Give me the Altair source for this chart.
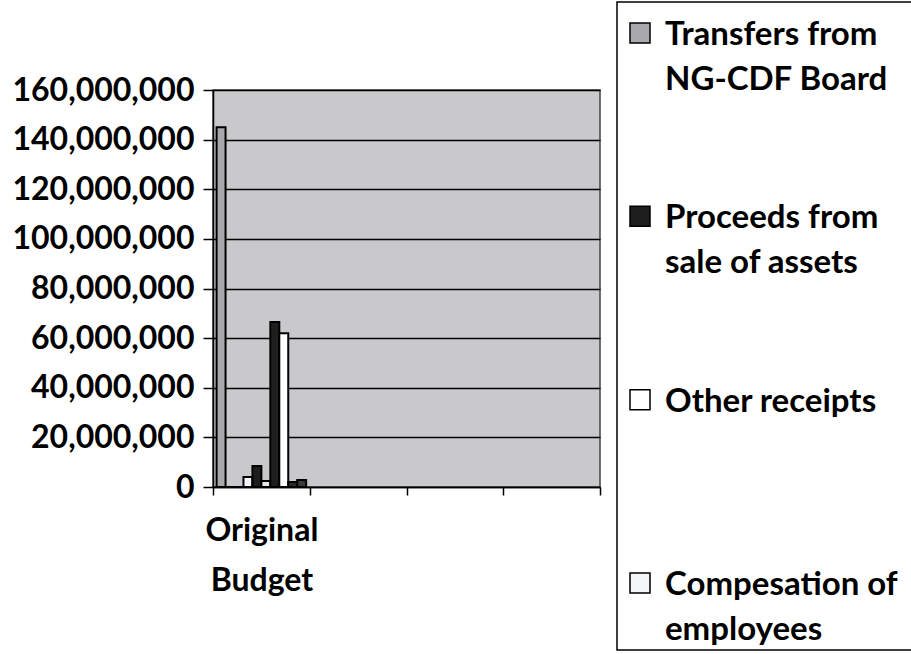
import altair as alt
import pandas as pd

# ---- data ----
categories = ["Original Budget", " ", "  ", "   "]
series = [
    "Transfers from NG-CDF Board",
    "Proceeds from sale of assets",
    "Other receipts",
    "Compesation of employees",
    "Use of goods and services",
    "Transfers to Other Government Units",
    "Other grants and transfers",
    "Social security benefits",
    "Acquisition of assets",
    "Other payments",
]
values = [145_000_000, 0, 0, 4_000_000, 8_500_000, 2_400_000,
          66_500_000, 62_000_000, 2_000_000, 2_800_000]
colors = ["#a9a9ab", "#1e1e1e", "#ffffff", "#f4f6fa", "#1e1e1e",
          "#e6e6e6", "#1e1e1e", "#ffffff", "#2a2a2a", "#3a3a3a"]
legend_series = series[:4]
legend_labels = ["Transfers from\nNG-CDF Board", "Proceeds from\nsale of assets",
                 "Other receipts", "Compesation of\nemployees"]
y_ticks = [0, 20_000_000, 40_000_000, 60_000_000, 80_000_000,
           100_000_000, 120_000_000, 140_000_000, 160_000_000]

df = pd.DataFrame({"category": [categories[0]] * len(series),
                   "series": series, "value": values})
leg_df = pd.DataFrame({"entry": legend_series, "label": legend_labels})
box_df = pd.DataFrame({"a": [0]})

FONT = "Lato"

bars = alt.Chart(df).mark_bar(stroke="black", strokeWidth=2).encode(
    x=alt.X("category:N", sort=categories,
            scale=alt.Scale(domain=categories, paddingInner=0, paddingOuter=0),
            axis=alt.Axis(title=None, labelAngle=0, grid=False,
                          labelExpr="datum.value == 'Original Budget' ? ['Original', 'Budget'] : ''",
                          tickBand="extent", ticks=True, tickSize=8, tickWidth=1.5,
                          labelLineHeight=50, labelPadding=20, domainWidth=1.5)),
    xOffset=alt.XOffset("series:N", sort=series,
                        scale=alt.Scale(domain=series, paddingInner=0, paddingOuter=0.4)),
    y=alt.Y("value:Q", scale=alt.Scale(domain=[0, 160_000_000], nice=False),
            axis=alt.Axis(title=None, values=y_ticks, format=",d", grid=True,
                          gridColor="black", gridWidth=1.5, tickSize=10, tickWidth=1.5,
                          labelPadding=9, domainWidth=1.5, labelLimit=400)),
    color=alt.Color("series:N", scale=alt.Scale(domain=series, range=colors), legend=None),
)

box = alt.Chart(box_df).mark_rect(fillOpacity=0, stroke="black", strokeWidth=1.5).encode(
    x=alt.value(404), x2=alt.value(720), y=alt.value(-88), y2=alt.value(560)
)

leg_y = alt.Y("entry:N", sort=legend_series,
              scale=alt.Scale(type="point", domain=legend_series, range=[-45, 505], padding=0),
              axis=None)

swatch = alt.Chart(leg_df).mark_square(size=400, stroke="black", strokeWidth=1.5,
                                       opacity=1, yOffset=-12).encode(
    x=alt.value(427), y=leg_y,
    fill=alt.Fill("entry:N", scale=alt.Scale(domain=legend_series, range=colors[:4]), legend=None),
)

text = alt.Chart(leg_df).mark_text(align="left", baseline="alphabetic", font=FONT,
                                   fontWeight="bold", fontSize=33, lineBreak="\n",
                                   lineHeight=45, color="black").encode(
    x=alt.value(452), y=leg_y, text="label:N"
)

chart = alt.layer(bars, box, swatch, text).resolve_scale(
    y="independent", color="independent"
).properties(
    width=387, height=397,
    autosize=alt.AutoSizeParams(type="none"),
    padding={"left": 213, "top": 90, "right": 311, "bottom": 167},
    background="white",
).configure_view(
    fill="#c9c9cc", stroke="#444444", strokeWidth=1.5
).configure_axis(
    labelFont=FONT, labelFontWeight="bold", labelFontSize=32, labelColor="black",
    domainColor="black", tickColor="black"
)

chart.save("out.html", embed_options={"renderer": "svg", "actions": False})
